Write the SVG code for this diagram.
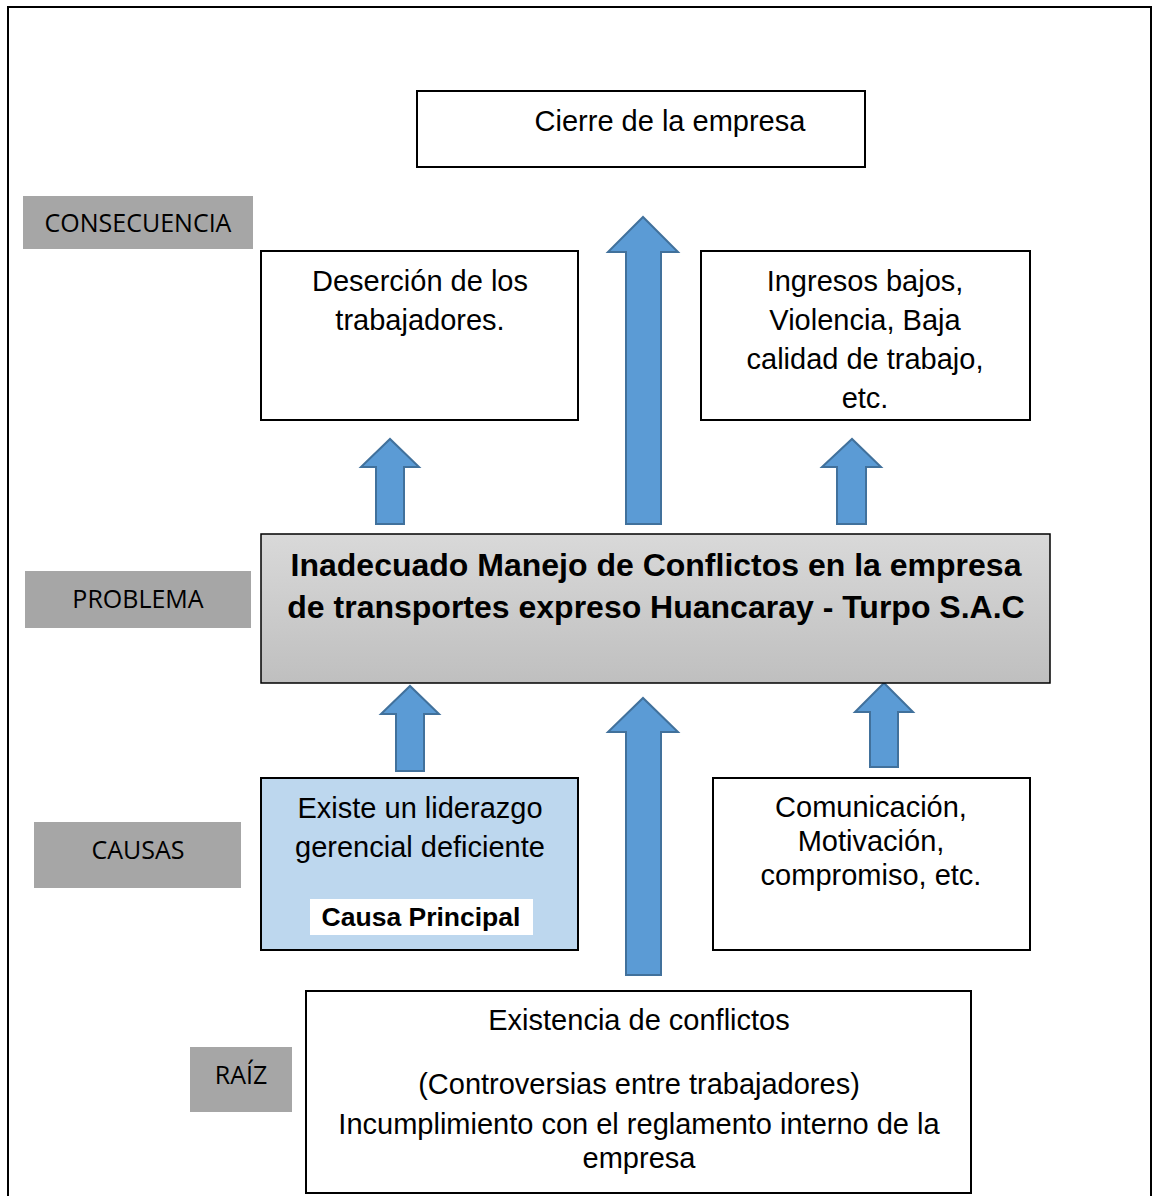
<svg xmlns="http://www.w3.org/2000/svg" width="1153" height="1196" viewBox="0 0 1153 1196">
<defs>
<linearGradient id="gp" x1="0" y1="0" x2="0" y2="1">
<stop offset="0" stop-color="#d9d9d9"/>
<stop offset="1" stop-color="#bfbfbf"/>
</linearGradient>
<style>
.lab{fill:#a6a6a6}
.labt{font-family:"Open Sans","Noto Sans",sans-serif;font-size:25px;fill:#000;text-anchor:middle}
.box{fill:#fff;stroke:#000;stroke-width:2}
.t{font-family:"Liberation Sans",Arial,sans-serif;font-size:29px;fill:#000;text-anchor:middle}
.tb{font-family:"Liberation Sans",Arial,sans-serif;font-size:32px;font-weight:bold;fill:#000;text-anchor:middle}
.arr{fill:#5b9bd5;stroke:#41719c;stroke-width:2;stroke-linejoin:miter}
</style>
</defs>
<rect x="8" y="7" width="1143" height="1200" fill="none" stroke="#000" stroke-width="2"/>

<g id="lab-consecuencia"><rect class="lab" x="23" y="196" width="230" height="53"/><text class="labt" x="138" y="232">CONSECUENCIA</text></g>
<g id="lab-problema"><rect class="lab" x="25" y="571" width="226" height="57"/><text class="labt" x="138" y="608">PROBLEMA</text></g>
<g id="lab-causas"><rect class="lab" x="34" y="822" width="207" height="66"/><text class="labt" x="138" y="859">CAUSAS</text></g>
<g id="lab-raiz"><rect class="lab" x="190" y="1047" width="102" height="65"/><text class="labt" x="241" y="1084">RAÍZ</text></g>

<g id="connectors">
<polygon class="arr" points="376,524 376,467 361,467 390,439 419,467 404,467 404,524"/>
<polygon class="arr" points="626,524 626,252 608,252 643,217 678,252 661,252 661,524"/>
<polygon class="arr" points="837,524 837,467 822,467 852,439 881,467 866,467 866,524"/>
<polygon class="arr" points="396,771 396,714 381,714 410,686 439,714 424,714 424,771"/>
<polygon class="arr" points="626,975 626,732 608,732 643,698 678,732 661,732 661,975"/>
<polygon class="arr" points="870,767 870,712 855,712 884,683 913,712 898,712 898,767"/>
</g>

<g id="cierre"><rect class="box" x="417" y="91" width="448" height="76"/><text class="t" x="670" y="131">Cierre de la empresa</text></g>
<g id="desercion"><rect class="box" x="261" y="251" width="317" height="169"/>
<text class="t" x="420" y="291">Deserción de los</text><text class="t" x="420" y="330">trabajadores.</text></g>
<g id="ingresos"><rect class="box" x="701" y="251" width="329" height="169"/>
<text class="t" x="865" y="291">Ingresos bajos,</text><text class="t" x="865" y="330">Violencia, Baja</text><text class="t" x="865" y="369">calidad de trabajo,</text><text class="t" x="865" y="408">etc.</text></g>
<g id="problema"><rect x="261" y="534" width="789" height="149" fill="url(#gp)" stroke="#000" stroke-width="1.5"/>
<text class="tb" x="656" y="576">Inadecuado Manejo de Conflictos en la empresa</text>
<text class="tb" x="656" y="618">de transportes expreso Huancaray - Turpo S.A.C</text></g>
<g id="liderazgo"><rect x="261" y="778" width="317" height="172" fill="#bdd7ee" stroke="#000" stroke-width="2"/>
<text class="t" x="420" y="818">Existe un liderazgo</text><text class="t" x="420" y="857">gerencial deficiente</text>
<rect x="310" y="899" width="223" height="36" fill="#fff"/>
<text x="421" y="926" font-family="Liberation Sans,Arial,sans-serif" font-size="26.5" font-weight="bold" text-anchor="middle">Causa Principal</text></g>
<g id="comunicacion"><rect class="box" x="713" y="778" width="317" height="172"/>
<text class="t" x="871" y="817">Comunicación,</text><text class="t" x="871" y="851">Motivación,</text><text class="t" x="871" y="885">compromiso, etc.</text></g>
<g id="existencia"><rect class="box" x="306" y="991" width="665" height="202"/>
<text class="t" x="639" y="1030">Existencia de conflictos</text>
<text class="t" x="639" y="1094">(Controversias entre trabajadores)</text>
<text class="t" x="639" y="1134">Incumplimiento con el reglamento interno de la</text>
<text class="t" x="639" y="1168">empresa</text></g>
</svg>
